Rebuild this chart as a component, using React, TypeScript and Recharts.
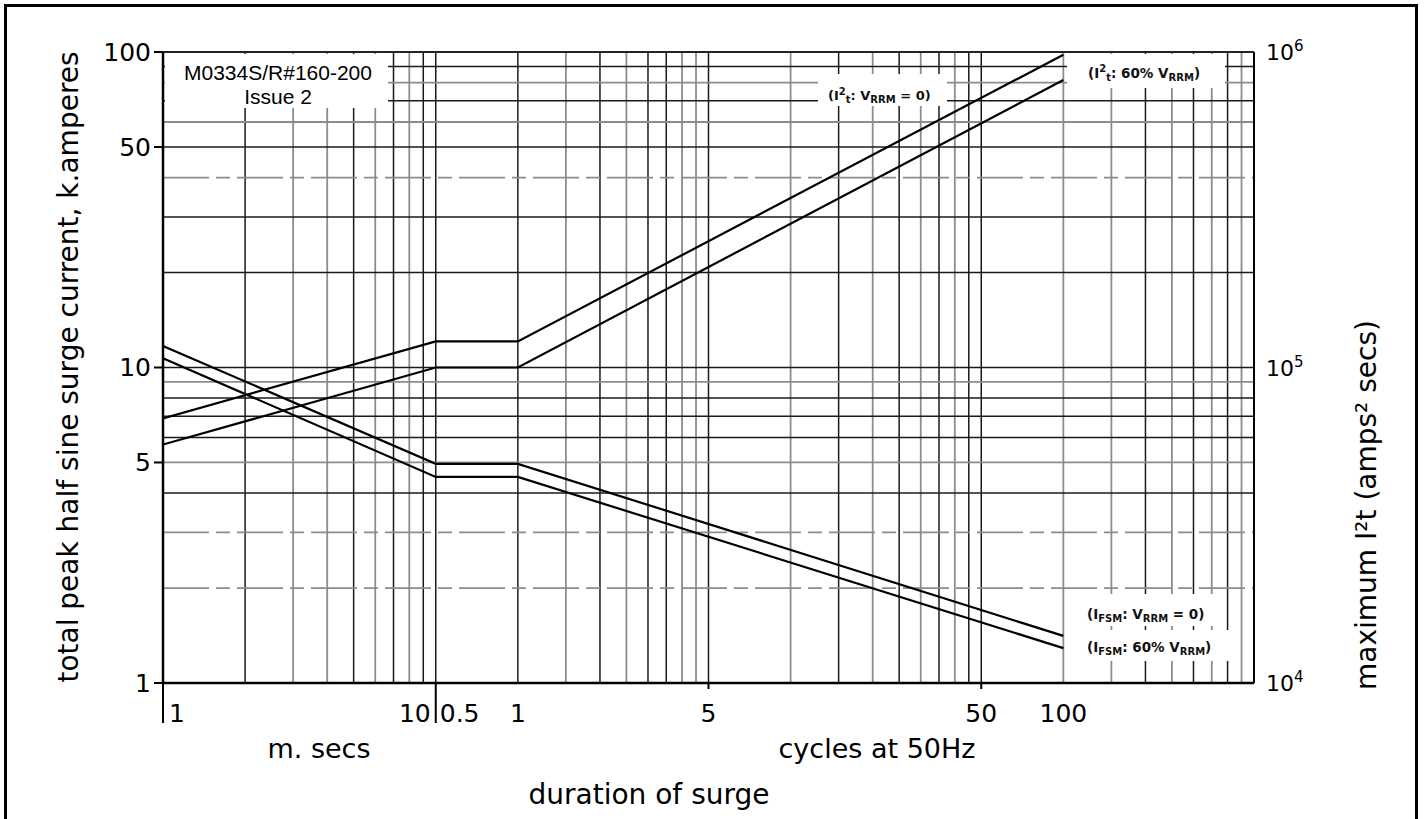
import React from 'react';
import { ComposedChart, Line, XAxis, YAxis, ReferenceLine } from 'recharts';

// ---------- data ----------
// surge duration in milliseconds (50 Hz: 1 cycle = 20 ms)
const durationMs = [1, 10, 20, 2000];
// maximum I²t, amps² secs (right axis)
const i2tVrrm0 = [6.9e4, 1.21e5, 1.21e5, 9.8e5];
const i2tVrrm60 = [5.7e4, 1.0e5, 1.0e5, 8.15e5];
// total peak half sine surge current, k.amperes (left axis)
const ifsmVrrm0 = [11.7, 4.95, 4.95, 1.41];
const ifsmVrrm60 = [10.7, 4.5, 4.5, 1.29];

const MS_PER_CYCLE = 20;

// tick labels
const msTickLabels = [1, 10];
const cycleTickLabels = [0.5, 1, 5, 50, 100];
const smallTickCycles = [5, 50];
const kaTicks = [1, 5, 10, 50, 100];
const i2tTicks = [1e4, 1e5, 1e6];

// grid values
const msGrid = [2, 3, 4, 5, 6, 7, 8, 9, 10];
const cycleGrid = [1, 1.5, 2, 2.5, 3, 3.5, 4, 4.5, 5, 10, 15, 20, 25, 30, 35, 40, 45, 50, 100, 150, 200, 250, 300, 350, 400, 450];
const kaGrid = [2, 3, 4, 5, 6, 7, 8, 9, 10, 20, 30, 40, 50, 60, 70, 80, 90];

// grid styling (which lines print lighter / broken in the scan)
const lightMs = [3, 4, 6, 8];
const lightCycles = [1.5, 2.5, 4, 4.5, 10, 20, 30, 40, 100, 150, 250, 350, 450];
const lightKa = [2, 3, 5, 9, 40, 60, 80];
const dashedKa = [2, 3, 40];

const rows = durationMs.map((ms, i) => ({
  ms,
  i2t0: i2tVrrm0[i],
  i2t60: i2tVrrm60[i],
  ifsm0: ifsmVrrm0[i],
  ifsm60: ifsmVrrm60[i],
}));

const xTicks = Array.from(
  new Set([...msTickLabels, ...cycleTickLabels.map((c) => c * MS_PER_CYCLE)])
).sort((a, b) => a - b);

const xGrid = [
  ...msGrid.map((v) => ({ ms: v, light: lightMs.includes(v) })),
  ...cycleGrid.map((c) => ({ ms: c * MS_PER_CYCLE, light: lightCycles.includes(c) })),
];

const FONT = "'DejaVu Sans', 'Liberation Sans', sans-serif";
const ARIAL = "'Liberation Sans', Arial, sans-serif";
const DARK = '#1a1a1a';
const LIGHT = '#8c8c8c';

// ---------- ticks ----------
function XTick(props: any) {
  const { x, y, payload } = props;
  const v = payload.value as number;
  const cyc = v / MS_PER_CYCLE;
  const hasMs = msTickLabels.includes(v);
  const hasCyc = cycleTickLabels.some((c) => Math.abs(c - cyc) < 1e-9);
  const base = y + 39;
  const st = { fontFamily: FONT, fontSize: 25, fill: '#000' };
  return (
    <g>
      {hasMs && <line x1={x} y1={y} x2={x} y2={y + 40} stroke="#000" strokeWidth={2} />}
      {!hasMs && smallTickCycles.some((c) => Math.abs(c - cyc) < 1e-9) && (
        <line x1={x} y1={y} x2={x} y2={y + 6} stroke="#000" strokeWidth={2} />
      )}
      {hasMs && hasCyc && (
        <>
          <text x={x - 5} y={base} textAnchor="end" {...st}>{String(v)}</text>
          <text x={x + 4} y={base} textAnchor="start" {...st}>{String(cyc)}</text>
        </>
      )}
      {hasMs && !hasCyc && (
        <text x={x + 6} y={base} textAnchor="start" {...st}>{String(v)}</text>
      )}
      {!hasMs && hasCyc && (
        <text x={x} y={base} textAnchor="middle" {...st}>{String(cyc)}</text>
      )}
    </g>
  );
}

function I2tTick(props: any) {
  const { x, y, payload } = props;
  const exp = Math.round(Math.log10(payload.value));
  return (
    <text x={x + 12} y={y + 8} fontFamily={FONT} fontSize={22} fill="#000">
      10
      <tspan dy={-9} fontSize={15}>{String(exp)}</tspan>
    </text>
  );
}

// ---------- rich annotation text ----------
type Seg = { t: string; k?: 'sup' | 'sub' };
function RichLabel({ x, y, segs, size, sub }: { x: number; y: number; segs: Seg[]; size: number; sub: number }) {
  let cur = 0;
  return (
    <text x={x} y={y} fontFamily={FONT} fontSize={size} fontWeight="bold" fill="#111">
      {segs.map((s, i) => {
        const target = s.k === 'sup' ? -size * 0.42 : s.k === 'sub' ? size * 0.22 : 0;
        const dy = target - cur;
        cur = target;
        return (
          <tspan key={i} dy={dy} fontSize={s.k ? sub : size}>
            {s.t}
          </tspan>
        );
      })}
    </text>
  );
}

const lblI2t0: Seg[] = [{ t: '(I' }, { t: '2', k: 'sup' }, { t: 't', k: 'sub' }, { t: ': V' }, { t: 'RRM', k: 'sub' }, { t: ' = 0)' }];
const lblI2t60: Seg[] = [{ t: '(I' }, { t: '2', k: 'sup' }, { t: 't', k: 'sub' }, { t: ': 60% V' }, { t: 'RRM', k: 'sub' }, { t: ')' }];
const lblIfsm0: Seg[] = [{ t: '(I' }, { t: 'FSM', k: 'sub' }, { t: ': V' }, { t: 'RRM', k: 'sub' }, { t: ' = 0)' }];
const lblIfsm60: Seg[] = [{ t: '(I' }, { t: 'FSM', k: 'sub' }, { t: ': 60% V' }, { t: 'RRM', k: 'sub' }, { t: ')' }];

export default function App() {
  return (
    <div style={{ position: 'absolute', left: 0, top: 0, width: 1424, height: 819, background: '#fff' }}>
      <ComposedChart width={1424} height={819} data={rows} margin={{ top: 52, right: 70, bottom: 76, left: 63 }}>
        <XAxis
          dataKey="ms"
          type="number"
          scale="log"
          domain={[1, 10000]}
          allowDataOverflow
          ticks={xTicks}
          interval={0}
          tick={(p: any) => <XTick {...p} />}
          tickLine={false}
          tickSize={0}
          tickMargin={0}
          height={60}
          axisLine={{ stroke: '#000', strokeWidth: 2.5 }}
        />
        <YAxis
          yAxisId="kA"
          orientation="left"
          type="number"
          scale="log"
          domain={[1, 100]}
          allowDataOverflow
          ticks={kaTicks}
          interval={0}
          width={100}
          tickSize={9}
          tickMargin={3}
          tick={{ fill: '#000', fontSize: 25, fontFamily: FONT }}
          tickLine={{ stroke: '#000', strokeWidth: 2 }}
          axisLine={{ stroke: '#000', strokeWidth: 2.5 }}
        />
        <YAxis
          yAxisId="i2t"
          orientation="right"
          type="number"
          scale="log"
          domain={[1e4, 1e6]}
          allowDataOverflow
          ticks={i2tTicks}
          interval={0}
          width={100}
          tickSize={0}
          tickMargin={0}
          tickLine={false}
          tick={(p: any) => <I2tTick {...p} />}
          axisLine={{ stroke: '#000', strokeWidth: 2 }}
        />
        {xGrid.map((g) => (
          <ReferenceLine
            key={'vx' + g.ms}
            yAxisId="kA"
            x={g.ms}
            stroke={g.light ? LIGHT : DARK}
            strokeWidth={g.light ? 1.8 : 1.5}
            ifOverflow="visible"
            zIndex={-10}
          />
        ))}
        {kaGrid.map((v) => (
          <ReferenceLine
            key={'hy' + v}
            yAxisId="kA"
            y={v}
            stroke={lightKa.includes(v) ? LIGHT : DARK}
            strokeWidth={lightKa.includes(v) ? 1.8 : 1.5}
            strokeDasharray={dashedKa.includes(v) ? '46 7 14 7' : undefined}
            ifOverflow="visible"
            zIndex={-10}
          />
        ))}
        <ReferenceLine yAxisId="kA" y={100} stroke="#222" strokeWidth={2} ifOverflow="visible" zIndex={-10} />
        <Line yAxisId="i2t" dataKey="i2t0" stroke="#000" strokeWidth={2.2} dot={false} isAnimationActive={false} />
        <Line yAxisId="i2t" dataKey="i2t60" stroke="#000" strokeWidth={2.2} dot={false} isAnimationActive={false} />
        <Line yAxisId="kA" dataKey="ifsm0" stroke="#000" strokeWidth={2.2} dot={false} isAnimationActive={false} />
        <Line yAxisId="kA" dataKey="ifsm60" stroke="#000" strokeWidth={2.2} dot={false} isAnimationActive={false} />
      </ComposedChart>

      <svg
        width={1424}
        height={819}
        style={{ position: 'absolute', left: 0, top: 0, pointerEvents: 'none' }}
      >
        <rect x={5.5} y={5.5} width={1411} height={900} fill="none" stroke="#000" strokeWidth={3} />

        {/* reference box */}
        <rect x={165} y={54} width={223} height={54} fill="#fff" />
        <text x={278} y={80} textAnchor="middle" fontFamily={ARIAL} fontSize={21} fill="#000">M0334S/R#160-200</text>
        <text x={278} y={104} textAnchor="middle" fontFamily={ARIAL} fontSize={21} fill="#000">Issue 2</text>

        {/* curve labels */}
        <rect x={818} y={74} width={129} height={32} fill="#fff" />
        <RichLabel x={828} y={100} segs={lblI2t0} size={13} sub={10} />
        <rect x={1067} y={54} width={158} height={34} fill="#fff" />
        <RichLabel x={1088} y={78} segs={lblI2t60} size={13.5} sub={10} />
        <rect x={1078} y={594} width={146} height={32} fill="#fff" />
        <RichLabel x={1087} y={619} segs={lblIfsm0} size={13.5} sub={10} />
        <rect x={1078} y={630} width={156} height={31} fill="#fff" />
        <RichLabel x={1087} y={652} segs={lblIfsm60} size={13.5} sub={10} />

        {/* axis titles */}
        <text
          x={68}
          y={367}
          transform="rotate(-90 68 367)"
          textAnchor="middle"
          dominantBaseline="central"
          fontFamily={FONT}
          fontSize={28}
          fill="#000"
        >
          total peak half sine surge current, k.amperes
        </text>
        <text
          x={1366}
          y={505}
          transform="rotate(-90 1366 505)"
          textAnchor="middle"
          dominantBaseline="central"
          fontFamily={FONT}
          fontSize={28}
          fill="#000"
        >
          maximum I²t (amps² secs)
        </text>
        <text x={319} y={758} textAnchor="middle" fontFamily={FONT} fontSize={27} fill="#000">m. secs</text>
        <text x={877} y={758} textAnchor="middle" fontFamily={FONT} fontSize={27} fill="#000">cycles at 50Hz</text>
        <text x={649} y={804} textAnchor="middle" fontFamily={FONT} fontSize={28} fill="#000">duration of surge</text>
      </svg>
    </div>
  );
}
